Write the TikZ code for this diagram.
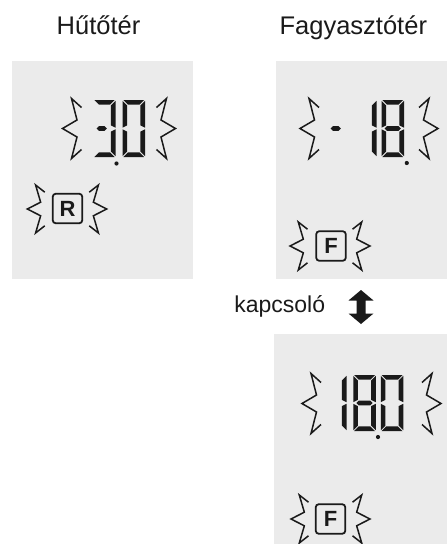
\documentclass[tikz,border=0pt]{standalone}
\usepackage{fontspec}
\setmainfont{Liberation Sans}
\definecolor{panel}{HTML}{EBEBEB}
\definecolor{ink}{HTML}{1A1A1A}
\tikzset{
  panelbox/.style={fill=panel, draw=none},
  zig/.style={draw=ink, line width=1.5pt, line join=miter, line cap=butt},
  seg/.style={fill=ink},
  iconbox/.style={draw=ink, line width=1.8pt, rounded corners=3pt, fill=panel,
    minimum size=29.5pt, inner sep=0pt, font=\fontsize{22}{22}\selectfont\bfseries, text=ink},
  title/.style={font=\fontsize{25.5}{26}\selectfont, text=ink, anchor=base, inner sep=0pt},
}
\def\T{4.6}\def\G{0.8}
\def\lcdsega{\fill[seg] (\G,0)--(\W-\G,0)--(\W-\T-\G,\T)--(\T+\G,\T)--cycle;}
\def\lcdsegb{\fill[seg] (\W,\G)--(\W,\H/2-\G)--(\W-\T,\H/2-\G-\T/2)--(\W-\T,\T+\G)--cycle;}
\def\lcdsegc{\fill[seg] (\W,\H/2+\G)--(\W,\H-\G)--(\W-\T,\H-\T-\G)--(\W-\T,\H/2+\G+\T/2)--cycle;}
\def\lcdsegd{\fill[seg] (\G,\H)--(\W-\G,\H)--(\W-\T-\G,\H-\T)--(\T+\G,\H-\T)--cycle;}
\def\lcdsege{\fill[seg] (0,\H/2+\G)--(0,\H-\G)--(\T,\H-\T-\G)--(\T,\H/2+\G+\T/2)--cycle;}
\def\lcdsegf{\fill[seg] (0,\G)--(0,\H/2-\G)--(\T,\H/2-\G-\T/2)--(\T,\T+\G)--cycle;}
\def\lcdsegg{\fill[seg] (\G+\T/2,\H/2)--(\T+\G,\H/2-\T/2)--(\W-\T-\G,\H/2-\T/2)--(\W-\G-\T/2,\H/2)--(\W-\T-\G,\H/2+\T/2)--(\T+\G,\H/2+\T/2)--cycle;}
\newcommand{\lcddigit}[5]{%
  \begin{scope}[shift={(#1,#2)}]
    \def\W{#3}\def\H{#4}%
    \foreach \s in {#5} {\csname lcdseg\s\endcsname}
  \end{scope}}
\newcommand{\zigzag}[4]{%
  \draw[zig, shift={(#1,#2)}, xscale=#3, yscale=#4]
    (19,-21)--(9,-30)--(14.5,-8.5)--(0,0)--(14.5,8.5)--(9,30)--(19,21);}
\begin{document}
\begin{tikzpicture}[x=1pt, y=-1pt]
\useasboundingbox (0,0) rectangle (447,544);
% panels
\fill[panelbox] (12,61) rectangle (192.7,279);
\fill[panelbox] (276,61) rectangle (447,278.5);
\fill[panelbox] (274.3,334) rectangle (447,544);
% titles
\node[title] (t1) at (98.5,34.3) {Hűtőtér};
\node[title] (t2) at (353.3,34.3) {Fagyasztótér};
\node[title, font=\fontsize{23}{24}\selectfont] (sw) at (279.7,312.7) {kapcsoló};
% switch arrow
\fill[ink] (361,290)--(373.5,300.5)--(365.5,300.5)--(365.5,313.5)--(373.5,313.5)--(361,324)
  --(348.5,313.5)--(356.5,313.5)--(356.5,300.5)--(348.5,300.5)--cycle;
% fridge 3.0
\zigzag{62.5}{128.5}{1}{1}
\zigzag{175.5}{128.5}{-1}{1}
\lcddigit{93.5}{100}{22}{57}{a,b,c,d}
\lcddigit{93.5}{100}{16.5}{57}{g}
\lcddigit{122.5}{100}{22.5}{57}{a,b,c,d,e,f}
\fill[ink] (116.5,163.5) circle (2.1pt);
\zigzag{27.3}{209}{0.92}{0.8}
\zigzag{106.7}{209}{-0.92}{0.8}
\node[iconbox] (r) at (67.5,208.5) {R};
% freezer -18.
\zigzag{300}{128.5}{1}{1}
\zigzag{438}{128.5}{-1}{1}
\lcddigit{327.5}{100}{16.5}{57}{g}
\lcddigit{354.5}{100}{22}{57}{b,c}
\lcddigit{381.5}{100}{22.5}{57}{a,b,c,d,e,f,g}
\fill[ink] (406.8,163) circle (2.1pt);
\zigzag{290}{246}{0.92}{0.8}
\zigzag{370}{246}{-0.92}{0.8}
\node[iconbox] (f1) at (331,246) {F};
% freezer 18.0
\zigzag{302}{403.5}{1}{1}
\zigzag{441}{403.5}{-1}{1}
\lcddigit{324.5}{375}{22}{56}{b,c}
\lcddigit{353.3}{375}{22.5}{56}{a,b,c,d,e,f,g}
\lcddigit{380.8}{375}{22.5}{56}{a,b,c,d,e,f}
\fill[ink] (378,437) circle (2.1pt);
\zigzag{291}{519}{0.92}{0.8}
\zigzag{370}{519}{-0.92}{0.8}
\node[iconbox] (f2) at (330.5,519) {F};
\end{tikzpicture}
\end{document}
